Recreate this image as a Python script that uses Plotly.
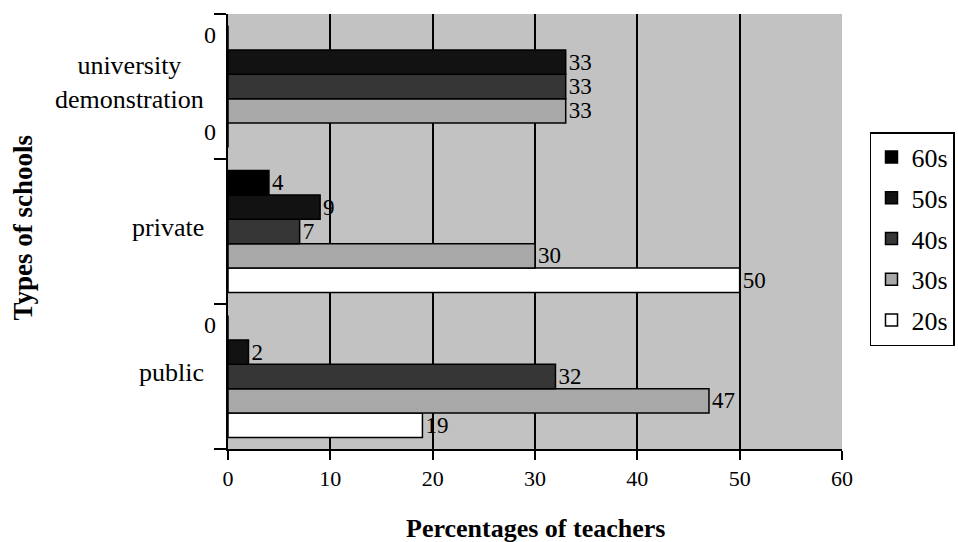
import plotly.graph_objects as go

categories = ["public", "private", "university demonstration"]
category_labels = ["public", "private", "university<br>demonstration"]
series_names = ["20s", "30s", "40s", "50s", "60s"]
values_20s = [19, 50, 0]
values_30s = [47, 30, 33]
values_40s = [32, 7, 33]
values_50s = [2, 9, 33]
values_60s = [0, 4, 0]
series_values = [values_20s, values_30s, values_40s, values_50s, values_60s]
colors = ["#ffffff", "#a8a8a8", "#363636", "#121212", "#000000"]
x_ticks = [0, 10, 20, 30, 40, 50, 60]

FONT = "Liberation Serif"
BARGAP = 0.16

fig = go.Figure()
n = len(series_names)
for i, (name, vals, col) in enumerate(zip(series_names, series_values, colors)):
    fig.add_trace(go.Bar(
        y=categories, x=vals, name=name, orientation="h", legendgroup=name,
        legendrank=n - i,
        marker=dict(color=col, line=dict(color="black", width=1.5)),
        text=[str(v) if v != 0 else "" for v in vals],
        textposition="outside", constraintext="none", cliponaxis=False,
        textfont=dict(family=FONT, size=23, color="black"),
    ))

annotations = []
w = (1 - BARGAP) / n
for i, vals in enumerate(series_values):
    off = -(1 - BARGAP) / 2 + w * (i + 0.5)
    for ci, v in enumerate(vals):
        if v == 0:
            annotations.append(dict(
                x=0, y=ci + off, xref="x", yref="y", text="0", showarrow=False,
                xanchor="right", xshift=-10, yshift=3,
                font=dict(family=FONT, size=24, color="black")))

for ci, lab in enumerate(category_labels):
    annotations.append(dict(
        x=0, y=ci, xref="paper", yref="y", text=lab, showarrow=False,
        xanchor="right", align="center", xshift=-22, yshift=4,
        font=dict(family=FONT, size=26, color="black")))

annotations.append(dict(
    x=0, y=0.5, xref="paper", yref="paper", text="<b>Types of schools</b>",
    showarrow=False, textangle=-90, xanchor="center", yanchor="middle",
    xshift=-206, yshift=4,
    font=dict(family=FONT, size=27, color="black")))

annotations.append(dict(
    x=0.5, y=0, xref="paper", yref="paper", text="<b>Percentages of teachers</b>",
    showarrow=False, xanchor="center", yanchor="middle", yshift=-79,
    font=dict(family=FONT, size=26, color="black")))

fig.update_layout(
    width=958, height=542,
    margin=dict(l=228, r=116, t=14, b=93, autoexpand=False),
    paper_bgcolor="white", plot_bgcolor="#c2c2c2",
    barmode="group", bargap=BARGAP, bargroupgap=0,
    font=dict(family=FONT, size=20, color="black"),
    annotations=annotations,
    legend=dict(
        traceorder="grouped", x=1.0456, y=0.7287, xanchor="left", yanchor="top",
        bgcolor="white", bordercolor="black", borderwidth=1.5,
        font=dict(family=FONT, size=26, color="black"),
        itemwidth=30, tracegroupgap=4,
    ),
    xaxis=dict(
        range=[0, 60], tickvals=x_ticks, showgrid=True, gridcolor="black", gridwidth=2,
        zeroline=False, showline=True, linecolor="black", linewidth=2,
        ticks="outside", ticklen=9, tickwidth=2, tickcolor="black",
        ticklabelstandoff=0,
        tickfont=dict(family=FONT, size=22, color="black"),
    ),
    yaxis=dict(
        type="category", categoryorder="array", categoryarray=categories,
        showticklabels=False, showgrid=False, zeroline=False,
        showline=True, linecolor="black", linewidth=2,
        ticks="outside", tickson="boundaries", ticklen=12, tickwidth=2, tickcolor="black",
    ),
)

fig.write_html("out.html")
